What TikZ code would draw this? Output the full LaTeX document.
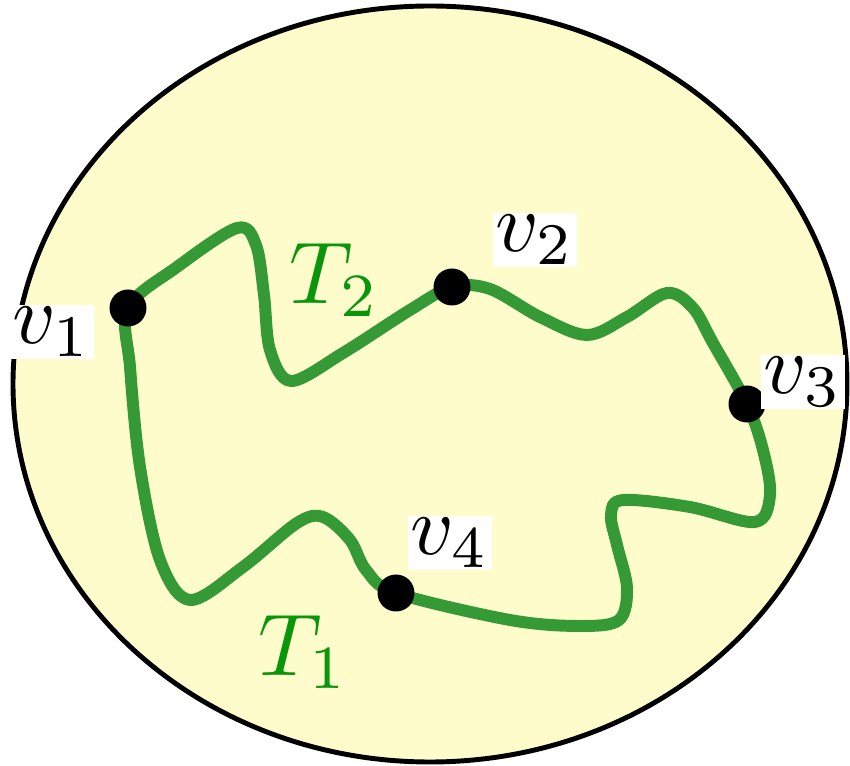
\documentclass[tikz,border=0pt]{standalone}
\usepackage{tikz}
\definecolor{bgyellow}{RGB}{255,252,204}
\definecolor{pathgreen}{RGB}{53,153,53}
\definecolor{labgreen}{RGB}{10,150,10}
\tikzset{
  vdot/.style={circle,fill=black,inner sep=0pt,minimum size=0.74cm},
  vlab/.style={fill=white,inner sep=0.3pt,scale=4.8},
  tlab/.style={text=labgreen,inner sep=0pt,scale=5},
  trail/.style={draw=pathgreen,line width=6.8pt,line join=round}
}
\begin{document}
\begin{tikzpicture}[x={(0.02cm,0)},y={(0,-0.02cm)}]
\useasboundingbox (0,0) rectangle (850,766);
\filldraw[fill=bgyellow,draw=black,line width=2.8pt] (430,384) ellipse [x radius=417, y radius=378];
\coordinate (p1) at (128,308);
\coordinate (p2) at (452,287);
\coordinate (p3) at (747,404);
\coordinate (p4) at (396,593);
\draw[trail] plot[smooth cycle,tension=0.55] coordinates {
  (p1) (177,267) (237,228) (256,245) (264,295) (270,350) (291,381) (343,353) (410,310)
  (p2) (490,289) (540,317) (587,335) (627,317) (667,293) (693,308) (713,343)
  (p3) (763,450) (770,495) (755,522) (690,507) (623,500) (611,515) (617,545) (627,588) (619,620) (580,626) (510,620)
  (p4) (366,570) (350,540) (323,517) (297,523) (243,567) (190,600) (160,560) (140,467) (130,367)};
\node[vdot] (v1) at (p1) {};
\node[vdot] (v2) at (p2) {};
\node[vdot] (v3) at (p3) {};
\node[vdot] (v4) at (p4) {};
\node[vlab] (l1) at (52,332) {$v_1$};
\node[vlab] (l2) at (535,240) {$v_2$};
\node[vlab] (l3) at (803,382) {$v_3$};
\node[vlab] (l4) at (450,543) {$v_4$};
\node[tlab] (t1) at (304,652) {$T_1$};
\node[tlab] (t2) at (335,280) {$T_2$};
\end{tikzpicture}
\end{document}
